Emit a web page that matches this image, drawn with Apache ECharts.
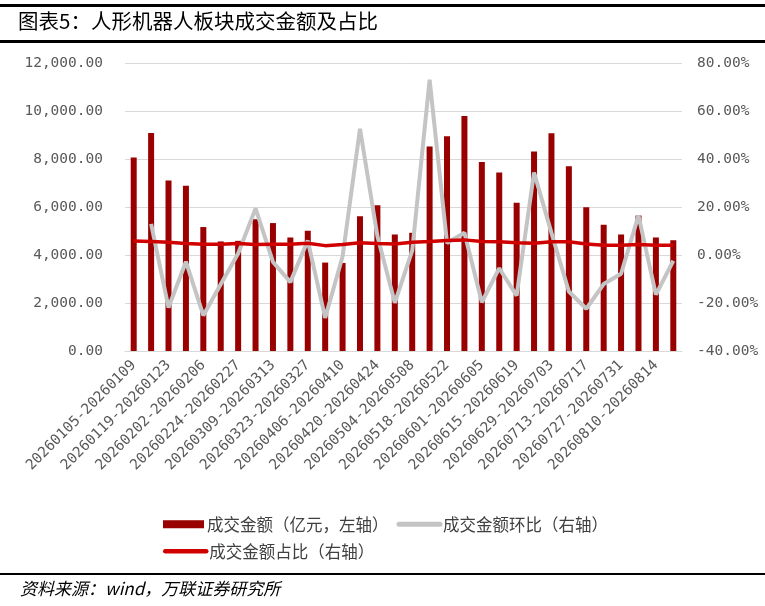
<!DOCTYPE html>
<html>
<head>
<meta charset="utf-8">
<script src="https://cdn.jsdelivr.net/npm/echarts@6/dist/echarts.min.js"></script>
<style>
html,body{margin:0;padding:0;background:#fff;}
#chart{width:765px;height:606px;}
</style>
</head>
<body>
<div id="chart"></div>
<script>
var categories = [
  '20260105-20260109','20260112-20260116','20260119-20260123','20260126-20260130',
  '20260202-20260206','20260209-20260213','20260224-20260227','20260302-20260306',
  '20260309-20260313','20260316-20260320','20260323-20260327','20260330-20260403',
  '20260406-20260410','20260413-20260417','20260420-20260424','20260427-20260430',
  '20260504-20260508','20260511-20260515','20260518-20260522','20260525-20260529',
  '20260601-20260605','20260608-20260612','20260615-20260619','20260622-20260626',
  '20260629-20260703','20260706-20260710','20260713-20260717','20260720-20260724',
  '20260727-20260731','20260803-20260807','20260810-20260814','20260817-20260821'
];
// 成交金额（亿元）
var amount = [
  8065, 9082, 7100, 6890, 5165, 4565, 4590, 5485,
  5330, 4730, 5010, 3685, 3670, 5610, 6070, 4855,
  4925, 8525, 8945, 9795, 7870, 7435, 6180, 8315,
  9070, 7700, 5985, 5260, 4855, 5650, 4730, 4615
];
// 成交金额环比（%）
var momPct = [
  null, 13.0, -21.9, -2.8, -25.2, -12.2, 0.6, 19.4,
  -2.9, -11.3, 6.0, -26.2, -0.6, 52.6, 7.9, -19.9,
  1.8, 73.0, 5.0, 9.3, -19.7, -5.5, -16.9, 34.4,
  9.2, -15.2, -22.4, -12.1, -7.8, 16.4, -16.5, -2.4
];
// 成交金额占比（%）
var sharePct = [
  5.8, 5.6, 5.3, 4.8, 4.5, 4.5, 4.8, 4.4,
  4.5, 4.5, 4.9, 3.9, 4.4, 5.1, 4.8, 4.6,
  5.3, 5.6, 6.0, 6.3, 5.6, 5.5, 5.1, 4.9,
  5.5, 5.5, 4.6, 4.1, 4.1, 4.4, 4.1, 4.1
];
var leftTicks = [0, 12000, 2000];
var rightTicks = [-40, 80, 20];

var names = ['成交金额（亿元，左轴）', '成交金额环比（右轴）', '成交金额占比（右轴）'];
var axisFont = 'DejaVu Sans Mono';
var cjkFont = '"Noto Sans CJK SC"';

var chart = echarts.init(document.getElementById('chart'), null, {renderer: 'canvas'});
chart.setOption({
  animation: false,
  backgroundColor: '#fff',
  graphic: [
    {type: 'rect', shape: {x: 0, y: 4, width: 765, height: 3}, style: {fill: '#000'}},
    {type: 'rect', shape: {x: 0, y: 40, width: 765, height: 3}, style: {fill: '#000'}},
    {type: 'text', left: 18, top: 11, style: {text: '图表5：人形机器人板块成交金额及占比', font: '20.5px ' + cjkFont, fill: '#000'}},
    {type: 'rect', shape: {x: 0, y: 573, width: 765, height: 2}, style: {fill: '#000'}},
    {type: 'text', left: 20, top: 580, style: {text: '资料来源：wind，万联证券研究所', font: 'italic 17px ' + cjkFont, fill: '#000'}}
  ],
  legend: [
    {
      left: 158, top: 511, itemGap: 8, itemWidth: 41, itemHeight: 8,
      data: [
        {name: names[0], icon: 'rect'},
        {name: names[1], itemStyle: {opacity: 0}, lineStyle: {width: 5, cap: 'round'}}
      ],
      textStyle: {fontFamily: cjkFont, fontSize: 16.5, color: '#404040', padding: [0, 0, 0, -2]}
    },
    {
      left: 158, top: 538, itemGap: 8, itemWidth: 41, itemHeight: 8,
      data: [{name: names[2], itemStyle: {opacity: 0}, lineStyle: {width: 4.5, cap: 'round'}}],
      textStyle: {fontFamily: cjkFont, fontSize: 16.5, color: '#404040', padding: [0, 0, 0, -2]}
    }
  ],
  grid: {left: 125, right: 83, top: 63, bottom: 255, containLabel: false},
  xAxis: {
    type: 'category',
    data: categories,
    axisLine: {lineStyle: {color: '#d9d9d9', width: 1}},
    axisTick: {show: false},
    axisLabel: {
      interval: 1, rotate: 45, margin: 12,
      fontFamily: axisFont, fontSize: 14.5, color: '#595959'
    }
  },
  yAxis: [
    {
      type: 'value', min: leftTicks[0], max: leftTicks[1], interval: leftTicks[2],
      axisLine: {show: false}, axisTick: {show: false},
      splitLine: {lineStyle: {color: '#d9d9d9', width: 1}},
      axisLabel: {
        margin: 22, fontFamily: axisFont, fontSize: 14.5, color: '#595959',
        formatter: function (v) {
          return v.toLocaleString('en-US', {minimumFractionDigits: 2, maximumFractionDigits: 2});
        }
      }
    },
    {
      type: 'value', min: rightTicks[0], max: rightTicks[1], interval: rightTicks[2],
      axisLine: {show: false}, axisTick: {show: false},
      splitLine: {show: false},
      axisLabel: {
        margin: 15, fontFamily: axisFont, fontSize: 14.5, color: '#595959',
        formatter: function (v) { return v.toFixed(2) + '%'; }
      }
    }
  ],
  series: [
    {
      name: names[0], type: 'bar', yAxisIndex: 0, data: amount,
      barWidth: 6, itemStyle: {color: '#990000'}, z: 2
    },
    {
      name: names[1], type: 'line', yAxisIndex: 1, data: momPct,
      symbol: 'none', lineStyle: {color: '#c4c4c4', width: 4}, itemStyle: {color: '#c4c4c4'}, z: 3
    },
    {
      name: names[2], type: 'line', yAxisIndex: 1, data: sharePct,
      symbol: 'none', lineStyle: {color: '#d10000', width: 3.5}, itemStyle: {color: '#d10000'}, z: 4
    }
  ]
});
</script>
</body>
</html>
